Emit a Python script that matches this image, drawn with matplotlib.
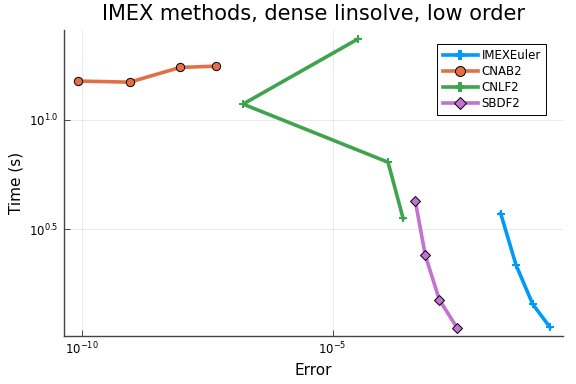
import numpy as np
import matplotlib
matplotlib.use("Agg")
import matplotlib.pyplot as plt
from matplotlib.ticker import FixedLocator, FixedFormatter, NullLocator

# Data (log10 values)
imex_err = [-1.653, -1.348, -1.016, -0.671]
imex_time = [0.572, 0.337, 0.159, 0.053]
cnab_err = [-10.068, -9.044, -8.042, -7.325]
cnab_time = [1.176, 1.171, 1.238, 1.244]
cnlf_err = [-4.496, -6.787, -3.898, -3.598]
cnlf_time = [1.368, 1.071, 0.806, 0.550]
sbdf_err = [-3.355, -3.155, -2.876, -2.518]
sbdf_time = [0.629, 0.381, 0.179, 0.049]

x_ticks = [-10, -5]
x_labels = [r"$10^{-10}$", r"$10^{-5}$"]
y_ticks = [0.5, 1.0]
y_labels = [r"$10^{0.5}$", r"$10^{1.0}$"]

fig = plt.figure(figsize=(5.76, 3.84), dpi=100)
ax = fig.add_axes([0.1106, 0.125, 0.978 - 0.1106, 0.922 - 0.125])

series = [
    ("IMEXEuler", imex_err, imex_time, "#009AFA", "P"),
    ("CNAB2", cnab_err, cnab_time, "#E36F47", "o"),
    ("CNLF2", cnlf_err, cnlf_time, "#3EA44E", "P"),
    ("SBDF2", sbdf_err, sbdf_time, "#C371D2", "D"),
]
for name, e, t, c, m in series:
    x = 10.0 ** np.array(e)
    y = 10.0 ** np.array(t)
    if m == "P":
        ax.plot(x, y, color=c, lw=2.6, marker="P", ms=6, mfc=c, mec=c, mew=0, label=name)
    elif m == "o":
        ax.plot(x, y, color=c, lw=2.6, marker="o", ms=6, mfc=c, mec="black", mew=0.7, label=name)
    else:
        ax.plot(x, y, color=c, lw=2.6, marker="D", ms=5, mfc=c, mec="black", mew=0.7, label=name)

ax.set_xscale("log")
ax.set_yscale("log")
ax.set_xlim(10 ** -10.359, 10 ** -0.406)
ax.set_ylim(10 ** 0.0137, 10 ** 1.409)

ax.xaxis.set_major_locator(FixedLocator([10.0 ** v for v in x_ticks]))
ax.xaxis.set_major_formatter(FixedFormatter(x_labels))
ax.yaxis.set_major_locator(FixedLocator([10.0 ** v for v in y_ticks]))
ax.yaxis.set_major_formatter(FixedFormatter(y_labels))
ax.xaxis.set_minor_locator(NullLocator())
ax.yaxis.set_minor_locator(NullLocator())

ax.grid(True, color="black", alpha=0.1, lw=0.6)
for s in ["top", "right"]:
    ax.spines[s].set_visible(False)
for s in ["left", "bottom"]:
    ax.spines[s].set_color("#444444")
    ax.spines[s].set_linewidth(1.0)
ax.tick_params(direction="in", length=4, width=0.7, color="#444444", labelsize=8.5)

ax.set_xlabel("Error", fontsize=11)
ax.set_ylabel("Time (s)", fontsize=11)
ax.set_title("IMEX methods, dense linsolve, low order", fontsize=15, pad=7)

leg = ax.legend(loc="upper right", fontsize=8.5, frameon=True, fancybox=False,
                edgecolor="black", framealpha=1, handlelength=3.0, markerscale=1.2,
                borderpad=0.45, labelspacing=0.25, handletextpad=0.3,
                bbox_to_anchor=(0.978, 0.975))
leg.get_frame().set_linewidth(0.7)

fig.savefig("out.png", dpi=100)
